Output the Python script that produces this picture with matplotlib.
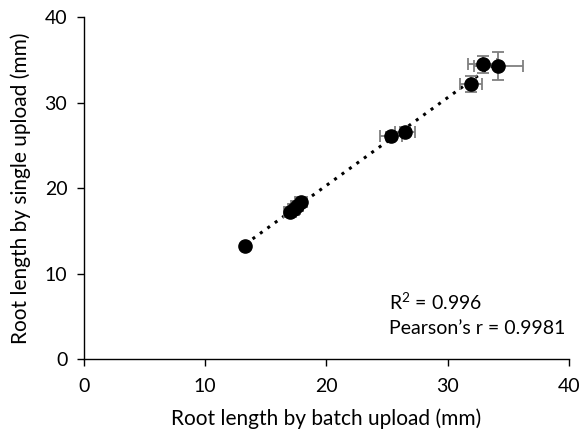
import numpy as np
import matplotlib.pyplot as plt

# root lengths (mm): batch upload (x) vs single upload (y)
batch_mm = [13.3, 17.0, 17.3, 17.6, 17.9, 25.3, 26.5, 31.9, 32.9, 34.2]
single_mm = [13.2, 17.2, 17.5, 17.9, 18.4, 26.1, 26.6, 32.2, 34.5, 34.3]
batch_err = [0.2, 0.5, 0.5, 0.5, 0.5, 0.9, 0.8, 0.9, 1.2, 2.0]
single_err = [0.2, 0.6, 0.6, 0.6, 0.6, 0.5, 0.5, 0.9, 1.0, 1.6]

r2_text = "R$^2$ = 0.996"
pearson_text = "Pearson\u2019s r = 0.9981"

plt.rcParams["font.family"] = ["Lato", "DejaVu Sans"]
plt.rcParams["mathtext.fontset"] = "custom"
plt.rcParams["mathtext.rm"] = "Lato"

fig = plt.figure(figsize=(5.87, 4.41), dpi=100)
ax = fig.add_axes([0.143, 0.186, 0.826, 0.775])

# linear trendline over the data range
slope, icpt = np.polyfit(batch_mm, single_mm, 1)
xs = np.array([min(batch_mm), max(batch_mm)])
ax.plot(xs, slope * xs + icpt, ls=(0, (1, 2)), c="black", lw=2.2, zorder=2)

ax.errorbar(batch_mm, single_mm, xerr=batch_err, yerr=single_err, fmt="o",
            mfc="black", mec="black", ms=9.5, ecolor="#7f7f7f", elinewidth=1.3,
            capsize=4, capthick=1.3, zorder=3)

ax.set_xlim(0, 40)
ax.set_ylim(0, 40)
ax.set_xticks([0, 10, 20, 30, 40])
ax.set_yticks([0, 10, 20, 30, 40])
ax.tick_params(axis="x", labelsize=14, length=5, width=1, pad=9)
ax.tick_params(axis="y", labelsize=14, length=5, width=1, pad=7)
for s in ["top", "right"]:
    ax.spines[s].set_visible(False)
ax.spines["left"].set_linewidth(1)
ax.spines["bottom"].set_linewidth(1)

ax.set_xlabel("Root length by batch upload (mm)", fontsize=15, labelpad=9)
ax.set_ylabel("Root length by single upload (mm)", fontsize=15, labelpad=10)

ax.text(0.629, 0.143, r2_text, transform=ax.transAxes, fontsize=14)
ax.text(0.629, 0.073, pearson_text, transform=ax.transAxes, fontsize=14)

fig.savefig("out.png", dpi=100)
